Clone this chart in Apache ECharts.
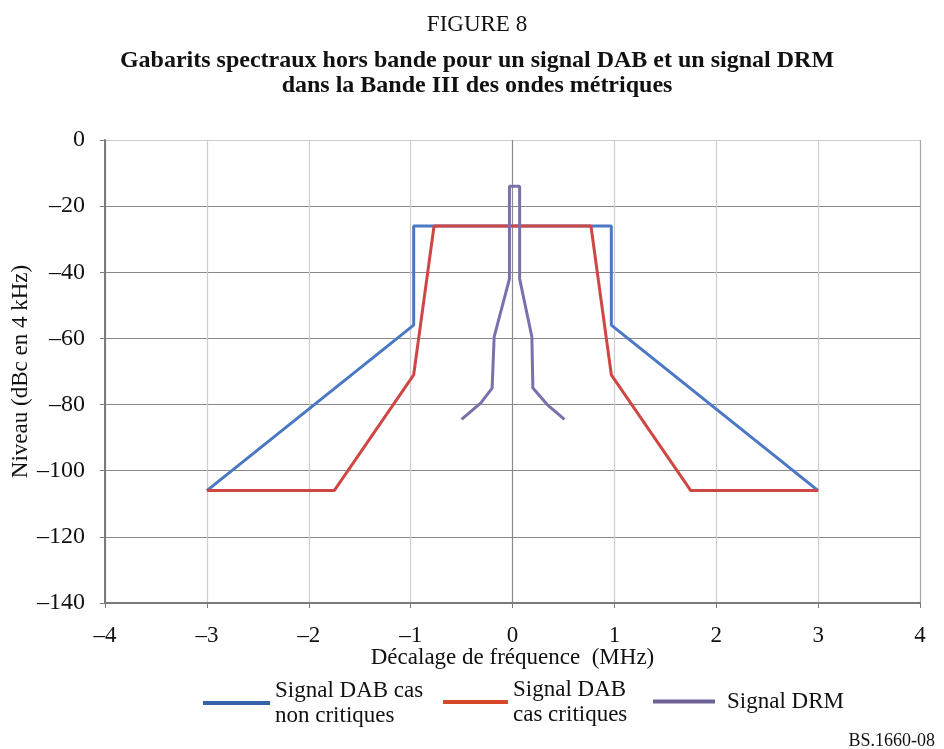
<!DOCTYPE html>
<html><head><meta charset="utf-8">
<script src="https://cdn.jsdelivr.net/npm/echarts@6/dist/echarts.min.js"></script>
<style>html,body{margin:0;padding:0;background:#fff}#c{width:944px;height:749px}</style>
</head><body><div id="c"></div>
<script>
const xTicks = [-4, -3, -2, -1, 0, 1, 2, 3, 4];
const yTicks = [0, -20, -40, -60, -80, -100, -120, -140];
const nonCriticalName = 'Signal DAB cas\nnon critiques';
const nonCriticalX = [-3, -0.97, -0.97, 0.97, 0.97, 3];
const nonCriticalY = [-106, -56, -26, -26, -56, -106];
const criticalName = 'Signal DAB\ncas critiques';
const criticalX = [-3, -1.75, -0.97, -0.77, 0.77, 0.97, 1.75, 3];
const criticalY = [-106, -106, -71, -26, -26, -71, -106, -106];
const drmName = 'Signal DRM';
const drmX = [-0.5, -0.31, -0.2, -0.18, -0.03, -0.03, 0.07, 0.07, 0.19, 0.2, 0.34, 0.51];
const drmY = [-84.5, -79.5, -75, -59.5, -42, -14, -14, -42, -59.5, -75, -80, -84.5];

const zip = (xs, ys) => xs.map((x, i) => [x, ys[i]]);
const fmt = v => (v < 0 ? '\u2013' + Math.abs(v) : String(v));
const FONT = 'Liberation Serif';
const DARK = '#8a8a8a', LIGHT = '#cdcdcd';

const chart = echarts.init(document.getElementById('c'), null, {renderer: 'canvas'});
const lineSeries = (name, data, color) => ({
  name, type: 'line', data, symbol: 'none', color,
  lineStyle: {width: 3, color}, animation: false
});
const legendAt = (name, left, top, w, color, padLeft) => ({
  data: [name], left, top, padding: 0, itemWidth: w, itemHeight: 4, icon: 'rect',
  itemStyle: {color},
  textStyle: {fontFamily: FONT, fontSize: 23, color: '#111', lineHeight: 25, padding: [0, 0, 0, padLeft]}
});
chart.setOption({
  animation: false,
  title: [
    {text: 'FIGURE 8', left: 472, top: 7, textAlign: 'center',
     textStyle: {fontFamily: FONT, fontSize: 23, fontWeight: 'normal', color: '#111', lineHeight: 25}},
    {text: 'Gabarits spectraux hors bande pour un signal DAB et un signal DRM\ndans la Bande III des ondes métriques',
     left: 472, top: 43, textAlign: 'center',
     textStyle: {fontFamily: FONT, fontSize: 24, fontWeight: 'bold', color: '#111', lineHeight: 25}},
    {text: 'BS.1660-08', right: 4, top: 727,
     textStyle: {fontFamily: FONT, fontSize: 18, fontWeight: 'normal', color: '#111', lineHeight: 18}}
  ],
  grid: {left: 105, right: 24, top: 140, bottom: 146, outerBoundsMode: 'none', containLabel: false},
  xAxis: {
    type: 'value', min: xTicks[0], max: xTicks[xTicks.length - 1], interval: 1,
    name: 'Décalage de fréquence  (MHz)', nameLocation: 'middle', nameGap: 43, nameMoveOverlap: false,
    nameTextStyle: {fontFamily: FONT, fontSize: 23, color: '#111'},
    axisLine: {onZero: false, lineStyle: {color: '#7a7a7a', width: 2}},
    axisTick: {show: true, length: 5, lineStyle: {color: '#7a7a7a'}},
    axisLabel: {formatter: fmt, fontFamily: FONT, fontSize: 23, color: '#111', margin: 21},
    splitLine: {show: true, lineStyle: {width: 1.2,
      color: [DARK, LIGHT, LIGHT, LIGHT, DARK, LIGHT, LIGHT, LIGHT, '#a8a8a8']}}
  },
  yAxis: {
    type: 'value', min: yTicks[yTicks.length - 1], max: yTicks[0], interval: 20,
    name: 'Niveau (dBc en 4 kHz)', nameLocation: 'middle', nameGap: 73, nameMoveOverlap: false,
    nameTextStyle: {fontFamily: FONT, fontSize: 23, color: '#111'},
    axisLine: {show: true, onZero: false, lineStyle: {color: '#7a7a7a', width: 2}},
    axisTick: {show: true, length: 5, lineStyle: {color: '#7a7a7a'}},
    axisLabel: {formatter: fmt, fontFamily: FONT, fontSize: 24, color: '#111', margin: 20},
    splitLine: {show: true, lineStyle: {width: 1.2,
      color: [DARK, DARK, DARK, DARK, DARK, DARK, DARK, LIGHT]}}
  },
  legend: [
    legendAt(nonCriticalName, 203, 678, 67, '#3563a8', 0),
    legendAt(criticalName, 443, 677, 65, '#d8472a', 0),
    legendAt(drmName, 653, 689, 62, '#6e6196', 7)
  ],
  series: [
    lineSeries(nonCriticalName, zip(nonCriticalX, nonCriticalY), '#4a78c4'),
    lineSeries(criticalName, zip(criticalX, criticalY), '#cf4745'),
    lineSeries(drmName, zip(drmX, drmY), '#7a70ac')
  ]
});
</script></body></html>
